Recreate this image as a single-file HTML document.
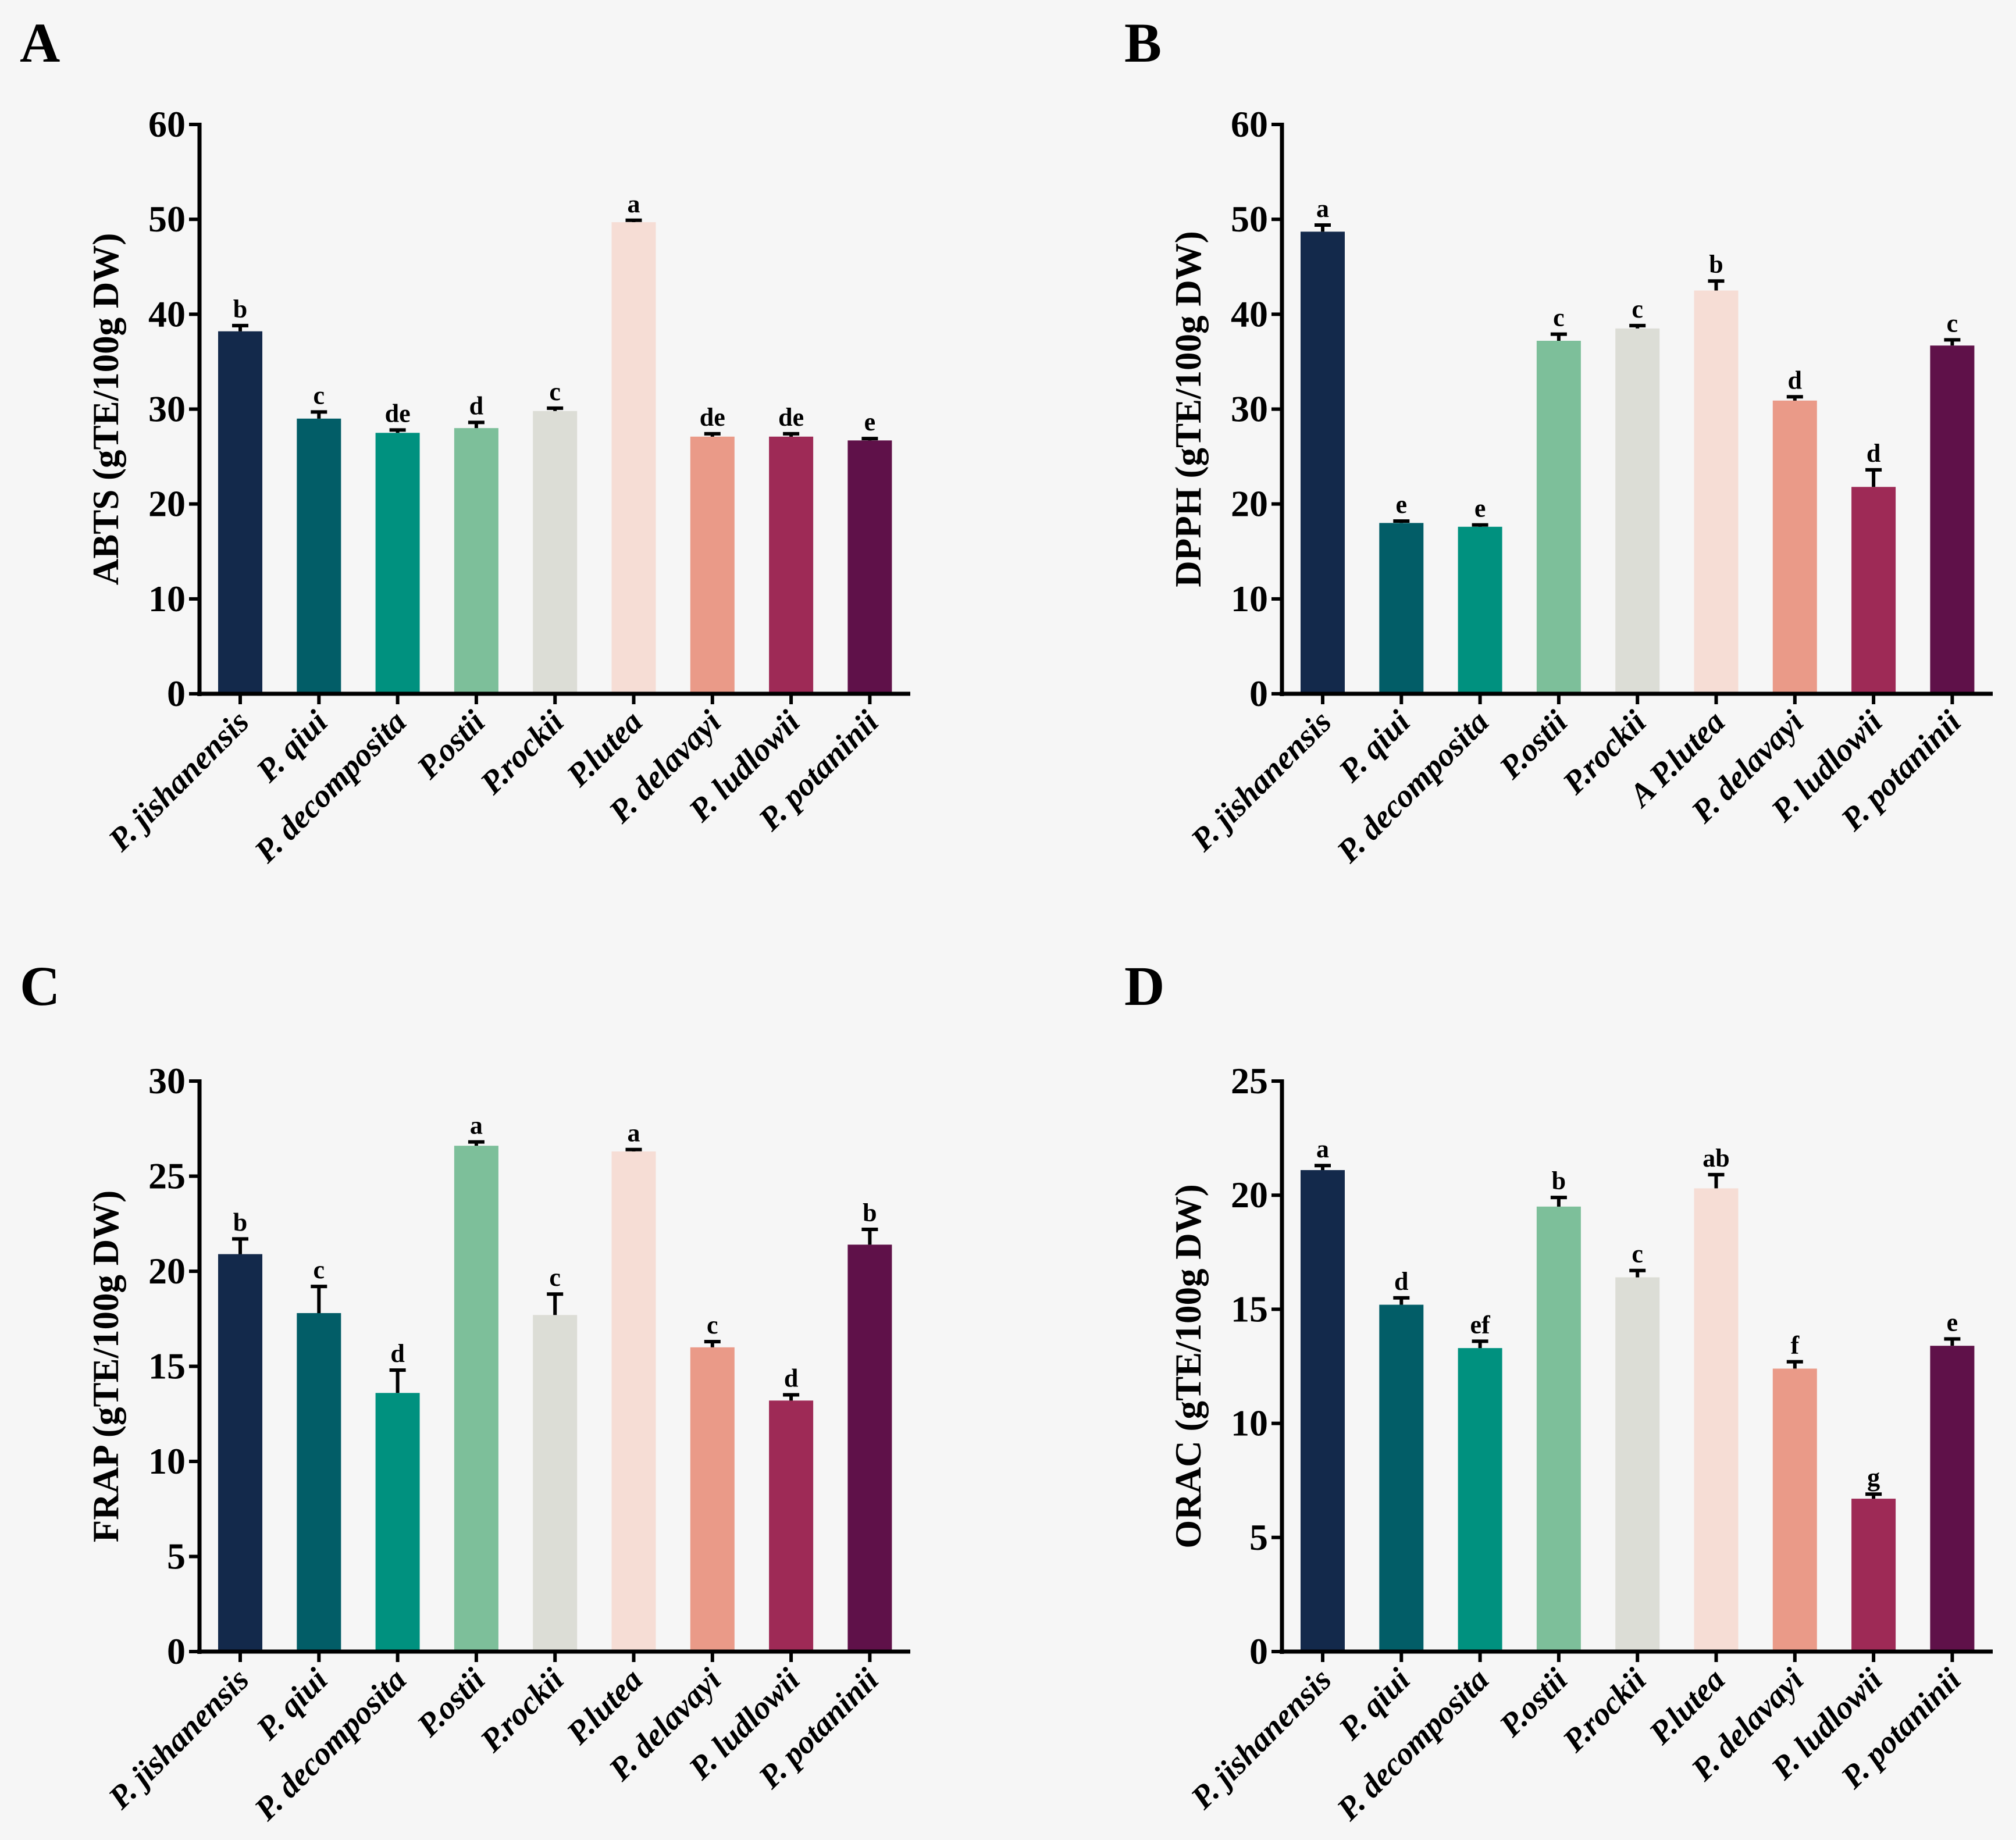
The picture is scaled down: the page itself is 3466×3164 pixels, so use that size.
<!DOCTYPE html>
<html><head><meta charset="utf-8">
<style>
html,body{margin:0;padding:0;background:#f6f6f6;}
svg{display:block;font-family:"Liberation Serif",serif;}
</style></head>
<body>
<svg id="fig" width="3466" height="3164" viewBox="0 0 3466 3164" xmlns="http://www.w3.org/2000/svg">
<rect width="3466" height="3164" fill="#f6f6f6"/>
</svg>
<script>
const categoriesAll = ["P. jishanensis","P. qiui","P. decomposita","P.ostii","P.rockii","P.lutea","P. delavayi","P. ludlowii","P. potaninii"];
const categoriesB = ["P. jishanensis","P. qiui","P. decomposita","P.ostii","P.rockii","A P.lutea","P. delavayi","P. ludlowii","P. potaninii"];
const colors = ["#13294b","#025d67","#00917f","#7dbf9a","#dcddd6","#f6ddd5","#ea9a88","#9e2a56","#5f1149"];
const abtsValues = [38.2,29.0,27.5,28.0,29.8,49.7,27.1,27.1,26.7];
const abtsErrors = [0.6,0.7,0.3,0.6,0.3,0.2,0.3,0.3,0.2];
const abtsLetters = ["b","c","de","d","c","a","de","de","e"];
const dpphValues = [48.7,18.0,17.6,37.2,38.5,42.5,30.9,21.8,36.7];
const dpphErrors = [0.7,0.2,0.2,0.7,0.3,1.0,0.4,1.8,0.6];
const dpphLetters = ["a","e","e","c","c","b","d","d","c"];
const frapValues = [20.9,17.8,13.6,26.6,17.7,26.3,16.0,13.2,21.4];
const frapErrors = [0.8,1.4,1.2,0.2,1.1,0.1,0.3,0.3,0.8];
const frapLetters = ["b","c","d","a","c","a","c","d","b"];
const oracValues = [21.1,15.2,13.3,19.5,16.4,20.3,12.4,6.7,13.4];
const oracErrors = [0.2,0.3,0.3,0.4,0.3,0.6,0.3,0.2,0.3];
const oracLetters = ["a","d","ef","b","c","ab","f","g","e"];
const ticksA = [0,10,20,30,40,50,60];
const ticksC = [0,5,10,15,20,25,30];
const ticksD = [0,5,10,15,20,25];

const NS="http://www.w3.org/2000/svg";
const svg=document.getElementById('fig');
function mk(tag,attrs,parent,text){
  const e=document.createElementNS(NS,tag);
  for(const k in attrs) e.setAttribute(k,attrs[k]);
  if(text!==undefined) e.textContent=text;
  (parent||svg).appendChild(e);
  return e;
}
function panel(opt){
  const g=mk('g',{});
  
  
  const ax=opt.ax, top=opt.top, y0=opt.y0, xEnd=opt.xEnd;
  const maxV=opt.ticks[opt.ticks.length-1];
  const yS=v=>y0-(v/maxV)*(y0-top);
  const step=135.3, first=ax+70;
  const xS=i=>first+i*step;
  const bw=76;
  const pl=mk('text',{x:opt.lx,y:opt.ly,'font-size':96,'font-weight':'bold',fill:'#000'},g,opt.letter);
  
  
  opt.values.forEach((v,i)=>{
    const cx=xS(i);
    const b=mk('rect',{x:cx-bw/2,y:yS(v),width:bw,height:y0-yS(v),fill:colors[i]},g);
    
    
    const ye=yS(v+opt.errors[i]);
    const e=mk('path',{d:`M${cx},${yS(v)} V${ye} M${cx-14},${ye} H${cx+14}`,stroke:'#000','stroke-width':6,fill:'none'},g);
    
    
    const t=mk('text',{x:cx,y:ye-14,'text-anchor':'middle','font-size':44,'font-weight':'bold'},g,opt.letters[i]);
    
    
    const tk=mk('line',{x1:cx,x2:cx,y1:y0,y2:y0+18,stroke:'#000','stroke-width':6},g);
    
    
    const lb=mk('text',{x:0,y:0,'text-anchor':'end','font-size':56,'font-weight':'bold','font-style':'italic',transform:`translate(${cx+18},${y0+52}) rotate(-45)`},g,opt.cats[i]);
    
    
  });
  const ya=mk('line',{x1:ax,x2:ax,y1:top-3,y2:y0+4,stroke:'#000','stroke-width':7},g);
  
  
  const xa=mk('line',{x1:ax-4,x2:xEnd,y1:y0,y2:y0,stroke:'#000','stroke-width':7},g);
  
  
  opt.ticks.forEach(t=>{
    const y=yS(t);
    const l=mk('line',{x1:ax-18,x2:ax,y1:y,y2:y,stroke:'#000','stroke-width':6},g);
    
    
    const tx=mk('text',{x:ax-24,y:y+21,'text-anchor':'end','font-size':64,'font-weight':'bold'},g,String(t));
    
    
  });
  const cy=(top+y0)/2;
  const yt=mk('text',{x:0,y:0,'text-anchor':'middle','font-size':63,'font-weight':'bold',transform:`translate(${ax-140},${cy}) rotate(-90)`},g,opt.title);
  
  
}
panel({letter:'A',lx:34,ly:106,ax:343,top:214,y0:1193,xEnd:1565,ticks:ticksA,values:abtsValues,errors:abtsErrors,letters:abtsLetters,cats:categoriesAll,title:'ABTS (gTE/100g DW)'});
panel({letter:'B',lx:1933,ly:106,ax:2204,top:214,y0:1193,xEnd:3426,ticks:ticksA,values:dpphValues,errors:dpphErrors,letters:dpphLetters,cats:categoriesB,title:'DPPH (gTE/100g DW)'});
panel({letter:'C',lx:34,ly:1728,ax:343,top:1859,y0:2840,xEnd:1565,ticks:ticksC,values:frapValues,errors:frapErrors,letters:frapLetters,cats:categoriesAll,title:'FRAP (gTE/100g DW)'});
panel({letter:'D',lx:1933,ly:1728,ax:2204,top:1859,y0:2840,xEnd:3426,ticks:ticksD,values:oracValues,errors:oracErrors,letters:oracLetters,cats:categoriesAll,title:'ORAC (gTE/100g DW)'});
</script>
</body></html>
